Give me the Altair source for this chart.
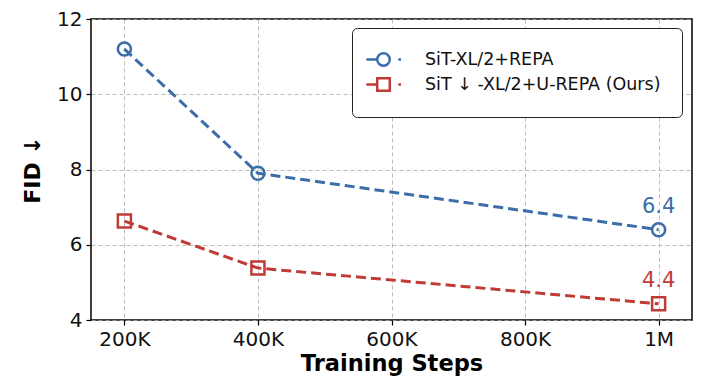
import altair as alt
import pandas as pd

steps = [200000, 400000, 1000000]
series_names = ["SiT-XL/2+REPA", "SiT ↓ -XL/2+U-REPA (Ours)"]
fid_repa = [11.2, 7.9, 6.4]
fid_urepa = [6.63, 5.38, 4.43]
final_labels = ["6.4", "4.4"]
colors = ["#3b6ea8", "#bf3b36"]
marker_shapes = ["circle", "square"]
tick_values = [200000, 400000, 600000, 800000, 1000000]

rows = []
for s, v in zip(steps, fid_repa):
    rows.append({"step": s, "fid": v, "series": series_names[0]})
for s, v in zip(steps, fid_urepa):
    rows.append({"step": s, "fid": v, "series": series_names[1]})
df = pd.DataFrame(rows)

ann = pd.DataFrame({
    "step": [steps[-1], steps[-1]],
    "fid": [fid_repa[-1], fid_urepa[-1]],
    "series": series_names,
    "label": final_labels,
})

FONT = "DejaVu Sans"

xenc = alt.X("step:Q",
             scale=alt.Scale(domain=[150000, 1050000], nice=False, zero=False),
             axis=alt.Axis(values=tick_values,
                           labelExpr="datum.value == 1000000 ? '1M' : (datum.value/1000) + 'K'",
                           title="Training Steps"))
yenc = alt.Y("fid:Q",
             scale=alt.Scale(domain=[4, 12], nice=False, zero=False),
             axis=alt.Axis(values=[4, 6, 8, 10, 12], title="FID ↓"))
color_scale = alt.Scale(domain=series_names, range=colors)

circle_path = ("M-1.9,0 L-0.7,0 M1.65,0 L1.95,0 "
               "M-0.7,0 A0.7,0.7 0 1,0 0.7,0 A0.7,0.7 0 1,0 -0.7,0")
square_path = ("M-1.9,0 L-0.7,0 M1.65,0 L1.95,0 "
               "M-0.7,-0.7 L0.7,-0.7 L0.7,0.7 L-0.7,0.7 Z")

legend = alt.Legend(
    title=None, orient="none", legendX=261, legendY=9,
    padding=21, rowPadding=2, labelOffset=31, labelLimit=400,
    labelFont=FONT, labelFontSize=17.5, labelColor="#111111",
    symbolSize=324, symbolStrokeWidth=2.5, symbolOpacity=1,
    symbolFillColor="transparent",
    fillColor="white", strokeColor="#222222", cornerRadius=5,
)

color_enc = alt.Color("series:N", scale=color_scale, legend=legend)

lines = alt.Chart(df).mark_line(strokeWidth=3, strokeDash=[10, 5]).encode(
    x=xenc, y=yenc, color=color_enc,
)

point_layers = []
for name, shp in zip(series_names, marker_shapes):
    point_layers.append(
        alt.Chart(df).transform_filter(alt.datum.series == name)
        .mark_point(filled=False, strokeWidth=2.5, size=170, opacity=1, shape=shp)
        .encode(x="step:Q", y="fid:Q", color=color_enc)
    )

legend_layer = alt.Chart(df).mark_point(filled=False, strokeWidth=2.5, size=324, opacity=0).encode(
    x="step:Q", y="fid:Q",
    color=color_enc,
    shape=alt.Shape("series:N", scale=alt.Scale(domain=series_names, range=[circle_path, square_path]), legend=legend),
)

text_layers = []
for name, col in zip(series_names, colors):
    text_layers.append(
        alt.Chart(ann).transform_filter(alt.datum.series == name)
        .mark_text(fontSize=21, font=FONT, dy=-23, align="center", color=col)
        .encode(x="step:Q", y="fid:Q", text="label:N")
    )

chart = alt.layer(legend_layer, lines, *point_layers, *text_layers).properties(
    width=601, height=301,
    autosize=alt.AutoSizeParams(type="none"),
    padding={"left": 83, "top": 11, "right": 12, "bottom": 62},
).configure_view(
    stroke="black", strokeWidth=1.5,
).configure_axis(
    labelFont=FONT, labelFontSize=20, labelColor="#111111",
    titleFont=FONT, titleFontWeight="bold", titleColor="black",
    grid=True, gridDash=[4, 3], gridColor="#aaaaaa", gridWidth=0.8,
    domain=False, ticks=True, tickColor="black", tickSize=5, tickWidth=1.2,
    labelPadding=4,
).configure_axisX(
    titleFontSize=22.5, titlePadding=3,
).configure_axisY(
    titleFontSize=22, titlePadding=12,
)

chart.save("out.html", embed_options={"renderer": "svg", "actions": False})
